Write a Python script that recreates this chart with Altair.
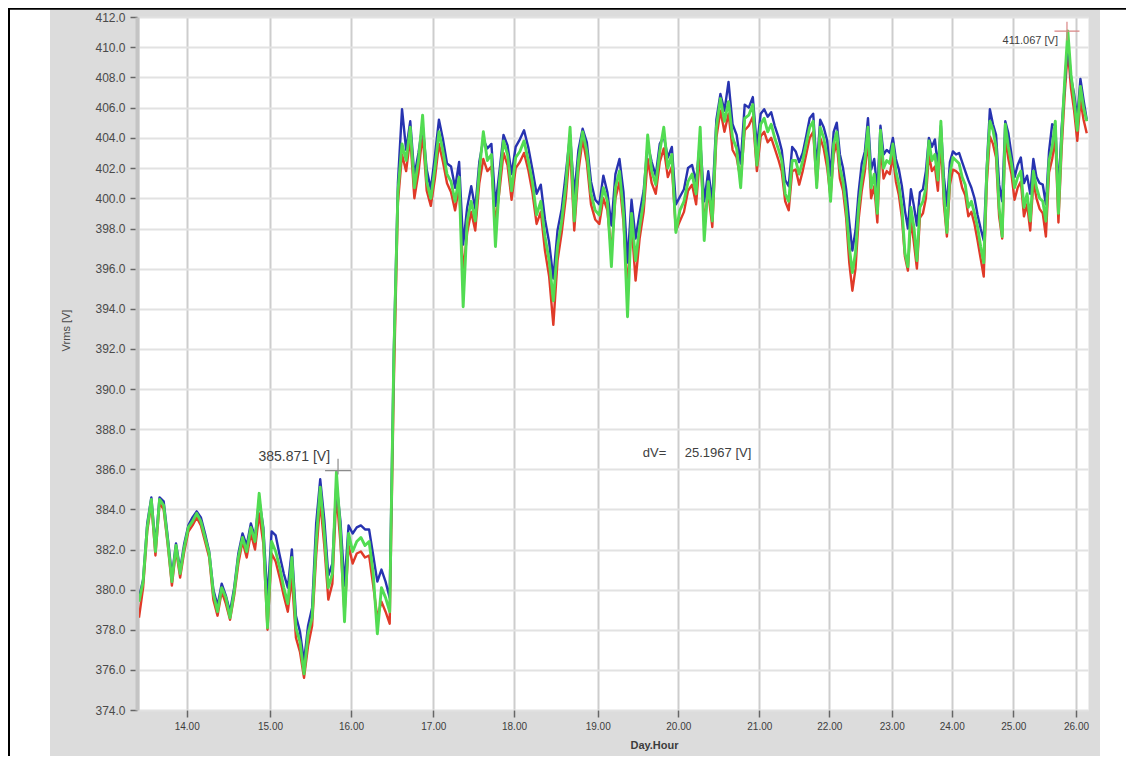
import altair as alt
import numpy as np
import pandas as pd

# sampling of the three phase voltages (days, regular step)
T0 = 13.42
STEP = 0.05

GREEN = [
    379.4, 380.4, 383.1, 384.5, 381.9, 384.5, 384.2, 382.4, 380.4, 382.2,
    380.8, 382.1, 383.1, 383.4, 383.8, 383.4, 382.6, 381.8, 379.8, 378.9,
    380.1, 379.6, 378.6, 379.9, 381.6, 382.6, 381.9, 383.1, 382.4, 384.8,
    382.8, 378.1, 382.4, 381.9, 381.1, 380.1, 379.3, 381.6, 378.1, 377.4,
    375.8, 377.8, 378.6, 382.4, 385.1, 382.8, 380.1, 380.8, 385.87, 382.9,
    378.4, 382.8, 381.9, 382.4, 382.6, 382.2, 382.4, 380.8, 377.8, 380.1,
    379.6, 378.9, 391.5, 400.4, 403.6, 402.5, 404.7, 400.7, 402.5, 405.5,
    401.1, 400.0, 402.0, 404.4, 403.1, 401.6, 401.1, 399.8, 401.4, 394.1,
    398.5, 399.8, 398.5, 401.8, 404.4, 402.5, 402.9, 397.1, 401.1, 403.8,
    402.9, 400.5, 402.7, 403.1, 403.8, 402.5, 401.1, 398.9, 399.8, 397.6,
    396.4, 394.4, 397.1, 398.5, 400.9, 404.7, 398.5, 402.5, 404.4, 403.1,
    400.3, 399.2, 398.9, 400.7, 399.8, 396.1, 400.7, 401.8, 399.0, 393.6,
    399.0, 396.4, 398.1, 399.8, 404.2, 401.8, 400.9, 403.1, 404.7, 402.0,
    402.9, 397.8, 399.2, 399.8, 401.1, 401.6, 400.3, 404.7, 397.4, 401.1,
    398.5, 404.7, 406.6, 405.1, 406.4, 404.0, 403.3, 400.7, 405.3, 405.5,
    406.2, 402.2, 404.9, 405.3, 404.4, 404.9, 404.0, 403.3, 402.5, 400.3,
    399.8, 402.5, 402.5, 401.6, 402.5, 403.6, 404.7, 405.1, 400.7, 404.7,
    404.0, 402.7, 399.8, 403.6, 404.4, 402.0, 401.1, 399.4, 397.1, 395.8,
    396.8, 399.4, 401.2, 402.5, 404.7, 400.7, 401.6, 399.0, 404.5, 402.0,
    402.5, 402.3, 403.6, 401.8, 400.9, 399.4, 396.8, 396.1, 399.4, 398.1,
    396.4, 399.4, 399.8, 400.7, 403.8, 402.5, 402.9, 401.2, 405.1, 400.3,
    397.8, 401.6, 402.7, 402.5, 402.3, 401.4, 400.9, 399.4, 399.8, 399.0,
    398.1, 397.1, 396.3, 401.8, 405.1, 404.5, 403.4, 399.4, 397.6, 404.9,
    403.4, 402.3, 400.7, 401.4, 401.8, 399.4, 400.3, 398.5, 401.8, 400.7,
    400.0, 399.8, 398.5, 402.5, 403.4, 405.1, 399.0, 404.0, 407.8, 411.07,
    408.2, 406.5, 404.5, 407.4, 406.0, 405.1,
]

BLUE = [
    379.6, 380.5, 383.3, 384.6, 382.2, 384.6, 384.4, 382.6, 380.7, 382.3,
    381.0, 382.3, 383.2, 383.6, 383.9, 383.6, 382.8, 381.9, 380.0, 379.2,
    380.3, 379.7, 378.9, 380.1, 381.8, 382.8, 382.2, 383.3, 382.6, 384.5,
    383.1, 379.5, 382.9, 382.7, 381.7, 380.8, 380.1, 382.0, 378.7, 377.9,
    376.4, 378.2, 379.1, 383.3, 385.5, 383.5, 380.7, 381.3, 385.3, 383.4,
    380.2, 383.2, 382.8, 383.1, 383.2, 383.0, 383.0, 381.7, 380.4, 381.0,
    380.4, 379.6, 391.8, 401.0, 405.9, 403.2, 405.1, 401.5, 403.0, 404.9,
    401.9, 400.6, 402.8, 405.2, 403.9, 402.3, 402.1, 400.7, 402.4, 397.2,
    399.4, 400.8, 399.3, 402.4, 403.9, 403.3, 403.6, 399.5, 401.8, 404.2,
    403.5, 401.6, 403.4, 403.9, 404.5, 403.4, 401.9, 400.3, 400.9, 398.6,
    397.3, 395.5, 397.9, 399.3, 401.7, 404.2, 400.2, 403.2, 404.6, 403.7,
    401.1, 399.9, 399.6, 401.5, 400.4, 398.2, 401.6, 402.6, 400.4, 396.3,
    399.9, 397.5, 399.0, 400.5, 403.6, 402.4, 401.5, 403.6, 404.1, 402.7,
    403.4, 399.6, 400.1, 400.6, 402.0, 402.2, 401.1, 403.9, 399.8, 401.8,
    399.8, 405.2, 406.9, 405.8, 407.7, 404.9, 404.2, 402.3, 406.2, 406.0,
    406.7, 403.4, 405.6, 405.9, 405.4, 405.7, 404.8, 404.1, 403.2, 401.2,
    400.8, 403.4, 403.1, 402.4, 403.0, 404.1, 405.3, 405.6, 402.0, 405.2,
    404.7, 403.8, 401.5, 404.4, 405.0, 402.9, 402.0, 400.6, 398.4, 396.9,
    397.9, 400.4, 402.3, 403.1, 405.3, 401.9, 402.6, 400.5, 404.8, 402.9,
    403.2, 403.0, 404.0, 402.6, 401.9, 400.8, 399.2, 398.0, 400.6, 399.5,
    398.2, 400.4, 400.6, 401.8, 404.0, 403.4, 403.9, 402.1, 404.8, 401.4,
    399.5, 402.4, 403.1, 402.9, 403.0, 402.4, 401.8, 401.2, 400.7, 400.0,
    398.9, 398.0, 397.4, 402.1, 405.9, 404.9, 404.2, 400.9, 399.8, 405.1,
    404.3, 402.9, 401.4, 402.2, 402.7, 401.0, 401.5, 400.3, 402.6, 401.4,
    401.0, 400.9, 399.6, 403.1, 404.9, 404.8, 400.4, 404.6, 407.5, 410.4,
    408.0, 406.9, 405.3, 407.9, 406.5, 405.2,
]

RED = [
    378.6, 380.1, 382.9, 384.3, 381.7, 384.3, 384.0, 382.2, 380.2, 382.0,
    380.6, 381.9, 382.9, 383.2, 383.6, 383.2, 382.4, 381.6, 379.5, 378.7,
    379.9, 379.3, 378.5, 379.7, 381.3, 382.4, 381.6, 382.8, 382.0, 383.8,
    382.3, 378.0, 381.8, 381.4, 380.6, 379.7, 378.9, 380.6, 377.6, 376.9,
    375.6, 377.2, 378.2, 381.7, 384.4, 382.2, 379.5, 380.3, 384.8, 382.3,
    378.8, 382.2, 381.3, 381.8, 381.9, 381.6, 381.7, 380.2, 378.6, 379.4,
    378.9, 378.3, 390.2, 399.7, 402.9, 401.8, 404.0, 400.0, 401.7, 404.3,
    400.5, 399.5, 401.3, 403.6, 402.4, 401.0, 400.4, 399.2, 400.8, 395.8,
    397.8, 399.1, 397.9, 401.0, 402.6, 401.8, 402.1, 398.3, 400.5, 403.0,
    402.2, 399.9, 402.0, 402.4, 403.0, 401.9, 400.4, 398.3, 399.1, 396.9,
    395.6, 393.2, 396.4, 397.8, 400.1, 403.4, 397.9, 401.8, 403.9, 402.4,
    399.6, 398.6, 398.3, 400.0, 399.2, 396.8, 400.0, 401.1, 398.4, 395.0,
    398.3, 395.4, 397.5, 399.1, 402.6, 401.0, 400.3, 402.4, 403.3, 401.4,
    402.1, 397.9, 398.5, 399.1, 400.5, 400.9, 399.6, 403.0, 398.4, 400.4,
    398.1, 404.0, 405.8, 404.4, 405.6, 403.2, 402.7, 401.2, 404.5, 404.8,
    405.4, 401.8, 404.1, 404.4, 403.7, 404.0, 403.3, 402.6, 401.8, 399.8,
    399.2, 401.8, 401.9, 400.9, 401.8, 402.9, 404.0, 404.4, 400.9, 404.0,
    403.3, 402.0, 400.1, 402.9, 403.7, 401.3, 400.5, 398.7, 396.3, 394.9,
    396.0, 398.6, 400.5, 401.8, 403.9, 400.0, 400.8, 398.4, 403.5, 401.3,
    401.8, 401.6, 402.8, 401.1, 400.2, 398.7, 396.6, 395.9, 398.6, 397.3,
    396.0, 398.7, 399.0, 400.0, 402.9, 401.8, 402.1, 400.5, 403.9, 399.6,
    397.6, 400.9, 401.9, 401.8, 401.6, 400.7, 400.2, 398.8, 399.1, 398.3,
    397.4, 396.5, 395.6, 401.0, 404.1, 403.6, 402.7, 398.8, 397.5, 404.0,
    402.6, 401.6, 399.9, 400.7, 401.1, 398.8, 399.6, 397.9, 401.1, 400.0,
    399.3, 399.0, 397.6, 401.7, 402.6, 404.0, 398.4, 403.2, 406.9, 409.8,
    407.3, 405.8, 403.8, 406.5, 405.2, 404.3,
]

X_TICKS = [14, 15, 16, 17, 18, 19, 20, 21, 22, 23, 24, 25, 26]
Y_TICKS = list(range(374, 413, 2))

# annotations
MAX_LOW_T, MAX_LOW_V, MAX_LOW_LABEL = [15.84], [385.871], ["385.871 [V]"]
MAX_HIGH_T, MAX_HIGH_V, MAX_HIGH_LABEL = [25.856], [411.067], ["411.067 [V]"]
DV_T, DV_V, DV_LABEL = [19.56, 20.08], [386.81, 386.81], ["dV=", "25.1967 [V]"]

# piecewise scales reproducing the reference's uneven axis spacing
X_DOMAIN = [13.42, 14, 15, 16, 17, 18, 19, 20, 21, 22, 23, 24, 25, 26, 26.19]
X_RANGE = [0, 47.7, 131, 212, 294.3, 375, 458.7, 539.3, 620.3, 690.3,
           752.7, 812.7, 874.3, 937, 949]
Y_DOMAIN = [374, 398, 412]
Y_RANGE = [693, 211.5, 0]

W, H = 949, 693
FONT = "Liberation Sans"

n = len(GREEN)
assert len(BLUE) == n and len(RED) == n, (len(GREEN), len(BLUE), len(RED))
times = np.round(T0 + STEP * np.arange(n), 3)

xscale = alt.Scale(domain=X_DOMAIN, range=X_RANGE, nice=False, zero=False)
yscale = alt.Scale(domain=Y_DOMAIN, range=Y_RANGE, nice=False, zero=False)

xaxis = alt.Axis(values=X_TICKS, format=".2f", title="Day.Hour", grid=True,
                 gridColor="#cdcdcd", gridWidth=2, domain=False,
                 ticks=True, tickSize=7, tickWidth=1.5, tickColor="#666666",
                 labelFontSize=10, labelColor="#3c3c3c", labelPadding=4,
                 labelFlush=False, labelOverlap=False, labelFont=FONT,
                 titleFont=FONT, titleFontSize=11, titleFontWeight="bold",
                 titleColor="#3c3c3c", titleX=515, titleY=35,
                 titleAlign="center", titleBaseline="middle")
yaxis = alt.Axis(values=Y_TICKS, format=".1f", title="Vrms [V]", grid=True,
                 gridColor="#e2e2e2", gridWidth=2, domain=True,
                 domainColor="#c4c4c4", domainWidth=4, offset=2,
                 ticks=True, tickSize=7, tickWidth=1.5, tickColor="#666666",
                 labelFontSize=12, labelColor="#4a4a4a", labelPadding=5,
                 labelFlush=False, labelOverlap=False, labelFont=FONT,
                 titleFont=FONT, titleFontSize=11, titleFontWeight="normal",
                 titleColor="#4a4a4a", titleAngle=270, titleX=-71, titleY=313,
                 titleAlign="center", titleBaseline="middle")

df = pd.DataFrame({
    "t": np.concatenate([times, times, times]),
    "v": RED + BLUE + GREEN,
    "phase": ["L1"] * n + ["L2"] * n + ["L3"] * n,
})

def phase_line(ph, color, width):
    return alt.Chart(df).transform_filter(alt.datum.phase == ph).mark_line(
        color=color, strokeWidth=width, clip=True, strokeJoin="round"
    ).encode(
        x=alt.X("t:Q", scale=xscale, axis=xaxis),
        y=alt.Y("v:Q", scale=yscale, axis=yaxis),
    )

lines = [phase_line("L1", "#e03a28", 2.4), phase_line("L2", "#2733b0", 2.4),
         phase_line("L3", "#52dc52", 2.9)]

deco = pd.DataFrame({"k": [0]})
def block(x0, x1, y0, y1, color):
    return alt.Chart(deco).mark_rect(color=color).encode(
        x=alt.value(x0), x2=alt.value(x1), y=alt.value(y0), y2=alt.value(y1))

decorations = [
    block(-131, -89, -9, 745, "white"),
    block(961, 990, -9, 745, "white"),
    block(-131, -129, -9, 745, "black"),
    block(-131, 990, -9, -7.3, "black"),
]

low_df = pd.DataFrame({"t": MAX_LOW_T, "v": MAX_LOW_V, "label": MAX_LOW_LABEL})
high_df = pd.DataFrame({"t": MAX_HIGH_T, "v": MAX_HIGH_V, "label": MAX_HIGH_LABEL})
dv_df = pd.DataFrame({"t": DV_T, "v": DV_V, "label": DV_LABEL})

enc = dict(x=alt.X("t:Q", scale=xscale, axis=xaxis),
           y=alt.Y("v:Q", scale=yscale, axis=yaxis))

low_mark = alt.Chart(low_df).mark_point(
    shape="M-1,-0.1L1,-0.1M0,-1L0,0.2", size=676, filled=False,
    color="#8c8c8c", strokeWidth=1.2, opacity=1).encode(**enc)
low_text = alt.Chart(low_df).mark_text(
    align="right", baseline="middle", dx=-8, dy=-15, fontSize=14,
    font=FONT, color="#404040").encode(text="label:N", **enc)
high_mark = alt.Chart(high_df).mark_point(
    shape="M-1,0L1,0M0,-0.75L0,0.75", size=625, filled=False,
    color="#d98585", strokeWidth=1.2, opacity=1).encode(**enc)
high_text = alt.Chart(high_df).mark_text(
    align="right", baseline="middle", dx=-9, dy=10, fontSize=11,
    font=FONT, color="#404040").encode(text="label:N", **enc)
dv_text = alt.Chart(dv_df).mark_text(
    align="left", baseline="middle", fontSize=13,
    font=FONT, color="#404040").encode(text="label:N", **enc)

chart = alt.layer(
    *decorations, *lines, low_mark, low_text, high_mark, high_text, dv_text
).properties(
    width=W, height=H,
    autosize=alt.AutoSizeParams(type="none"),
    padding={"left": 131, "top": 9, "right": 38, "bottom": 46},
    background="#dcdcdc",
).configure(
    font=FONT
).configure_view(
    fill="white", stroke="transparent"
)

chart.save("out.html", embed_options={"renderer": "svg", "actions": False})
